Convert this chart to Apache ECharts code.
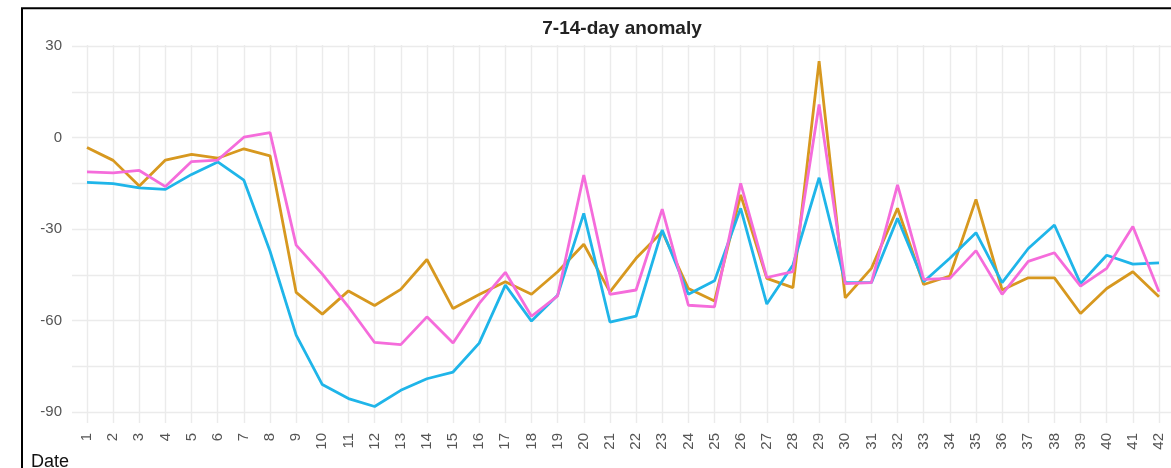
<!DOCTYPE html>
<html>
<head>
<meta charset="utf-8">
<script src="https://cdn.jsdelivr.net/npm/echarts@6/dist/echarts.min.js"></script>
<style>
html,body{margin:0;padding:0;background:#fff;}
#chart{width:1171px;height:468px;}
</style>
</head>
<body>
<div id="chart"></div>
<script>
const categories = ['1','2','3','4','5','6','7','8','9','10','11','12','13','14','15','16','17','18','19','20','21','22','23','24','25','26','27','28','29','30','31','32','33','34','35','36','37','38','39','40','41','42'];
const orangeSeries = [-3.3,-7.5,-15.9,-7.4,-5.5,-6.8,-3.7,-6.0,-50.8,-57.9,-50.3,-55.1,-49.8,-40.0,-56.1,-51.5,-47.3,-51.4,-44.0,-35.0,-50.6,-39.6,-30.9,-49.5,-53.6,-18.8,-46.2,-49.2,25.0,-52.6,-42.9,-23.2,-48.2,-45.4,-20.3,-50.0,-46.0,-46.0,-57.7,-49.5,-44.0,-52.2];
const blueSeries = [-14.7,-15.1,-16.5,-17.0,-12.1,-8.0,-14.0,-37.3,-64.8,-81.0,-85.6,-88.2,-82.9,-79.1,-76.9,-67.4,-48.4,-60.2,-51.7,-24.9,-60.5,-58.6,-30.3,-51.4,-47.0,-23.2,-54.6,-41.8,-13.2,-47.6,-47.6,-26.5,-47.3,-39.6,-31.2,-47.6,-36.4,-28.7,-47.9,-38.6,-41.5,-41.1];
const pinkSeries = [-11.3,-11.6,-10.8,-16.1,-7.9,-7.4,0.1,1.6,-35.3,-44.8,-55.5,-67.2,-67.9,-58.8,-67.4,-54.4,-44.2,-58.6,-51.9,-12.3,-51.4,-50.0,-23.5,-55.0,-55.5,-15.0,-45.9,-44.0,10.8,-47.9,-47.6,-15.5,-46.5,-46.2,-37.1,-51.4,-40.6,-37.8,-48.7,-42.9,-29.2,-50.6];
const yTicks = [-90,-60,-30,0,30];
const titleText = '7-14-day anomaly';
const xTitle = 'Date';

const gridColor = '#ebebeb';
const chart = echarts.init(document.getElementById('chart'), null, {renderer:'canvas'});
const lineSeries = (data, color, z) => ({
  type:'line', xAxisIndex:2, yAxisIndex:2, data:data, showSymbol:false, smooth:false,
  lineStyle:{color:color, width:2.8}, itemStyle:{color:color}, z:z, animation:false
});
chart.setOption({
  animation:false,
  backgroundColor:'#fff',
  grid:[
    {left:72, width:1110, top:46, height:366},
    {left:87, width:1072, top:45, height:378},
    {left:87, width:1072, top:46, height:366}
  ],
  xAxis:[
    {gridIndex:0, type:'category', data:categories, show:false},
    {gridIndex:1, type:'category', data:categories, boundaryGap:false,
     axisLine:{show:false}, axisTick:{show:false},
     axisLabel:{rotate:90, interval:0, margin:10, fontSize:15, color:'#555', fontFamily:'Liberation Sans, Arial, sans-serif'},
     splitLine:{show:true, interval:0, lineStyle:{color:gridColor, width:1.4}}},
    {gridIndex:2, type:'category', data:categories, boundaryGap:false, show:false}
  ],
  yAxis:[
    {gridIndex:0, type:'value', min:-90, max:30, interval:15,
     axisLine:{show:false}, axisTick:{show:false},
     axisLabel:{margin:10, fontSize:15, color:'#555', fontFamily:'Liberation Sans, Arial, sans-serif',
       formatter:(v)=> yTicks.indexOf(v) >= 0 ? String(v) : ''},
     splitLine:{show:true, lineStyle:{color:gridColor, width:1.4}}},
    {gridIndex:1, type:'value', min:0, max:1, show:false},
    {gridIndex:2, type:'value', min:-90, max:30, show:false}
  ],
  graphic:[
    {type:'text', x:622, y:29, z:10,
     style:{text:titleText, font:'bold 19px "Liberation Sans", Arial, sans-serif', fill:'#222', textAlign:'center', textVerticalAlign:'middle'}},
    {type:'text', x:31, y:453, z:10,
     style:{text:xTitle, font:'18px "Liberation Sans", Arial, sans-serif', fill:'#111', textAlign:'left', textVerticalAlign:'top'}},
    {type:'rect', z:20, shape:{x:22, y:8.3, width:1200, height:520},
     style:{fill:'none', stroke:'#000', lineWidth:2}}
  ],
  series:[
    lineSeries(orangeSeries, '#d7981f', 3),
    lineSeries(blueSeries, '#1fb5e9', 4),
    lineSeries(pinkSeries, '#f56cdb', 5)
  ]
});
</script>
</body>
</html>
